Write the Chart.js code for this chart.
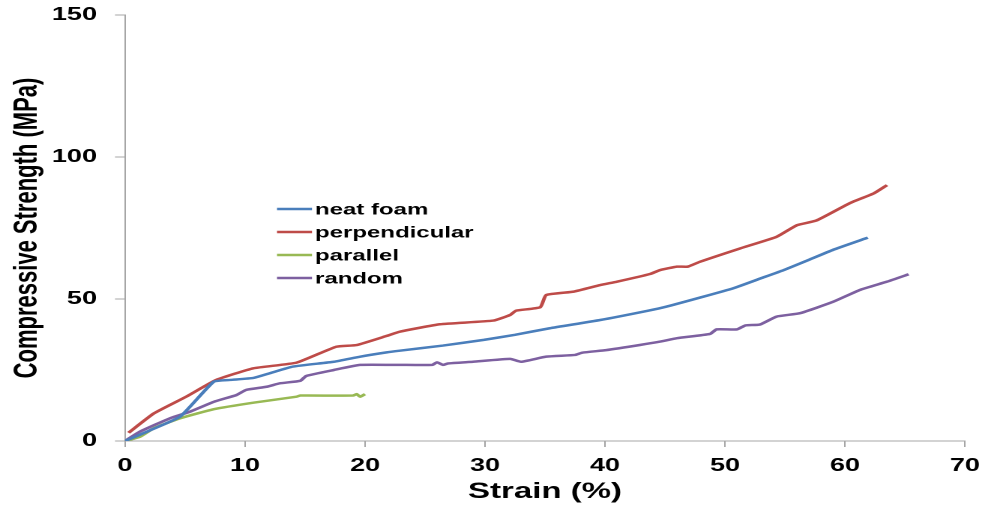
<!DOCTYPE html>
<html>
<head>
<meta charset="utf-8">
<script src="https://cdn.jsdelivr.net/npm/chart.js@4.4.1/dist/chart.umd.min.js"></script>
<style>
  html, body { margin: 0; padding: 0; background: #ffffff; overflow: hidden; }
  #wrap { width: 985px; height: 508px; position: relative; overflow: hidden; }
  #c { position: absolute; left: 0; top: 0; transform-origin: 0 0; }
</style>
</head>
<body>
<div id="wrap"><canvas id="c"></canvas></div>
<script>
// ---- data ----
const seriesNames = ["neat foam", "perpendicular", "parallel", "random"];
const seriesColors = ["#4A7EBB", "#BE4B48", "#98B954", "#7D60A0"];

const neatX = [0, 2, 4.6, 7.4, 8.75, 10.7, 12.1, 14, 17.4, 19.6, 21.8, 22.9, 26.5, 29.9, 32.5, 35.4, 39.6, 43.6, 45.1, 48, 50.7, 53, 54.9, 57, 59, 61.9];
const neatY = [0, 3.6, 8.6, 20.9, 21.5, 22.2, 23.9, 26.2, 27.9, 29.7, 31.2, 31.8, 33.6, 35.6, 37.4, 39.7, 42.6, 45.9, 47.3, 50.6, 53.8, 57.3, 60.2, 63.8, 67.3, 71.6];

const perpX = [0.3, 2.4, 5.1, 7.6, 10.7, 14.3, 17.6, 19.3, 21.8, 22.9, 26.25, 30.7, 32.1, 32.6, 34.6, 35.1, 37.4, 39.6, 41, 43.75, 44.6, 46, 46.9, 47.9, 51.25, 54.3, 56, 57.6, 60.1, 60.7, 62.4, 63.5];
const perpY = [2.9, 9.7, 15.6, 21.5, 25.6, 27.6, 33.2, 33.8, 37, 38.5, 41.1, 42.4, 44.4, 45.9, 47.1, 51.4, 52.6, 54.9, 56.1, 58.8, 60.2, 61.4, 61.4, 63.1, 67.8, 71.9, 76, 77.6, 83.1, 84.3, 87.2, 90.1];

const paraX = [0, 1.25, 2.4, 4.6, 7.4, 10.7, 14.3, 14.6, 19, 19.3, 19.6, 20];
const paraY = [0, 1.5, 4.5, 8, 11.2, 13.5, 15.6, 16, 16, 16.5, 15.6, 16.5];

const randX = [0, 1.25, 3.75, 5.4, 7.4, 9.3, 10.1, 11.8, 12.9, 14.6, 15.1, 17.4, 19.6, 22.9, 25.6, 26, 26.5, 26.9, 29, 32.1, 33, 35.1, 37.5, 38.1, 40.1, 42.9, 44.6, 46, 48.75, 49.3, 51, 51.7, 52.9, 54.3, 56.25, 59, 61.25, 63.5, 65.3];
const randY = [0, 3.3, 8, 10.3, 13.8, 16.2, 18, 19.1, 20.3, 21.2, 22.9, 25, 26.8, 26.8, 26.8, 27.7, 26.8, 27.3, 27.9, 28.9, 27.9, 29.7, 30.3, 31.1, 32, 33.8, 35, 36.2, 37.7, 39.3, 39.3, 40.7, 41, 43.8, 45, 49, 53.2, 56.1, 58.7];

const xTicks = [0, 10, 20, 30, 40, 50, 60, 70];
const yTicks = [0, 50, 100, 150];
const xTitle = "Strain (%)";
const yTitle = "Compressive Strength (MPa)";

// ---- layout: the reference is horizontally stretched, so draw narrower and stretch ----
const OUT_W = 985, OUT_H = 508;
const CW = 657;                 // canvas css width before stretch
const SX = OUT_W / CW;          // horizontal stretch factor
const canvas = document.getElementById('c');
canvas.width = CW; canvas.height = OUT_H;
canvas.style.transform = 'scaleX(' + SX + ')';

const pairs = (xs, ys) => xs.map((x, i) => ({ x: x, y: ys[i] }));
const allSeries = [pairs(neatX, neatY), pairs(perpX, perpY), pairs(paraX, paraY), pairs(randX, randY)];

const datasets = allSeries.map((d, i) => ({
  label: seriesNames[i],
  data: d,
  showLine: true,
  borderColor: seriesColors[i],
  backgroundColor: seriesColors[i],
  borderWidth: 2.5,
  pointRadius: 0,
  pointHoverRadius: 0,
  fill: false,
  tension: 0.15
}));

const FONT = "'Liberation Sans', Arial, 'DejaVu Sans', sans-serif";

const legendInside = {
  id: 'legendInside',
  afterDatasetsDraw(chart) {
    const ctx = chart.ctx;
    const x0 = 277 / SX, x1 = 312 / SX, tx = 315 / SX;
    const rows = [209, 232, 255, 278];
    ctx.save();
    ctx.font = "bold 16px " + FONT;
    ctx.textBaseline = 'middle';
    ctx.textAlign = 'left';
    chart.data.datasets.forEach((ds, i) => {
      const y = rows[i];
      ctx.strokeStyle = ds.borderColor;
      ctx.lineWidth = 2.5;
      ctx.beginPath(); ctx.moveTo(x0, y); ctx.lineTo(x1, y); ctx.stroke();
      ctx.fillStyle = '#000000';
      ctx.fillText(ds.label, tx, y + 1);
    });
    ctx.restore();
  }
};

new Chart(canvas, {
  type: 'scatter',
  data: { datasets: datasets },
  options: {
    responsive: false,
    animation: false,
    devicePixelRatio: 2,
    layout: { padding: { left: 0, right: CW - 965 / SX, top: 15, bottom: 0 } },
    plugins: { legend: { display: false }, tooltip: { enabled: false } },
    scales: {
      x: {
        type: 'linear',
        min: 0, max: 70,
        afterBuildTicks: (s) => { s.ticks = xTicks.map(v => ({ value: v })); },
        afterFit: (s) => { s.height = OUT_H - 441; s.paddingLeft = 0; s.paddingRight = 0; },
        ticks: { color: '#000000', font: { family: FONT, size: 18, weight: 'bold' }, padding: 8, maxRotation: 0 },
        grid: { drawOnChartArea: false, drawTicks: true, tickLength: 6, color: '#A6A6A6', lineWidth: 1 },
        border: { display: true, color: '#A6A6A6', width: 1 },
        title: { display: true, text: xTitle, color: '#000000', font: { family: FONT, size: 22, weight: 'bold' }, padding: { top: 0, bottom: 3 } }
      },
      y: {
        type: 'linear',
        min: 0, max: 150,
        afterBuildTicks: (s) => { s.ticks = yTicks.map(v => ({ value: v })); },
        afterFit: (s) => { s.width = 125 / SX; s.paddingTop = 0; s.paddingBottom = 0; },
        ticks: { color: '#000000', font: { family: FONT, size: 18, weight: 'bold' }, padding: 12 },
        grid: { drawOnChartArea: false, drawTicks: true, tickLength: 10 / SX, color: '#A6A6A6', lineWidth: 1 },
        border: { display: true, color: '#A6A6A6', width: 1 },
        title: { display: true, text: yTitle, color: '#000000', font: { family: FONT, size: 22, weight: 'bold' }, padding: { top: 5, bottom: 0 } }
      }
    }
  },
  plugins: [legendInside]
});
</script>
</body>
</html>
